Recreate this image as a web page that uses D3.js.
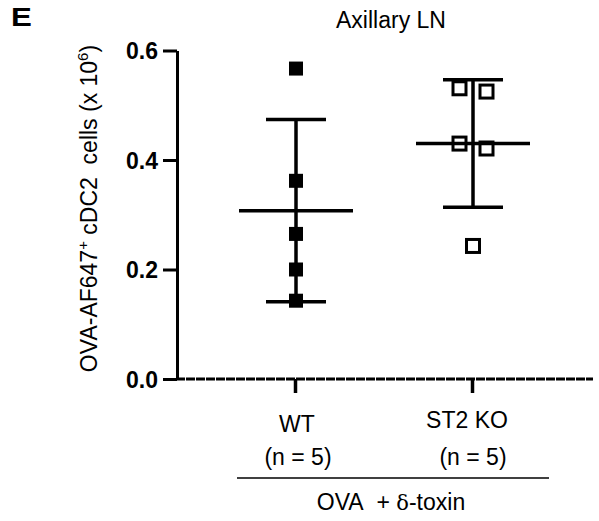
<!DOCTYPE html>
<html>
<head>
<meta charset="utf-8">
<script src="https://cdn.jsdelivr.net/npm/d3@7"></script>
<style>
  html, body { margin: 0; padding: 0; background: #fff; }
  svg { display: block; }
  text { font-family: "Liberation Sans", Arial, sans-serif; fill: #000; }
</style>
</head>
<body>
<svg id="chart" width="599" height="521"></svg>
<script>
// ---- data ----
const categories = ["WT", "ST2 KO"];
const nLabels = ["(n = 5)", "(n = 5)"];
const wtValues = [0.567, 0.362, 0.265, 0.200, 0.143];
const koValues = [0.531, 0.525, 0.430, 0.421, 0.243];
const yTicks = [0.0, 0.2, 0.4, 0.6];
const panelLabel = "E";
const title = "Axillary LN";
const groupTitle = "OVA\u00a0 + δ-toxin";

const groups = [
  { name: categories[0], values: wtValues, filled: true },
  { name: categories[1], values: koValues, filled: false }
];

const svg = d3.select("#chart");

const y = d3.scaleLinear().domain([0, 0.6]).range([379, 50.5]);
const x = d3.scalePoint().domain(categories).range([296, 473]);

// panel label & title
svg.append("text").attr("transform", "translate(11,26) scale(1.2,1)")
  .attr("font-size", 26).attr("font-weight", "bold").text(panelLabel);
svg.append("text").attr("x", 391).attr("y", 28)
  .attr("text-anchor", "middle").attr("font-size", 23).text(title);

// y axis
const yAxis = svg.append("g").attr("transform", "translate(177,0)")
  .call(d3.axisLeft(y).tickValues(yTicks).tickFormat(d3.format(".1f"))
    .tickSize(14).tickSizeOuter(0).tickPadding(5));
yAxis.select(".domain").attr("stroke", "#000").attr("stroke-width", 3);
yAxis.selectAll(".tick line").attr("stroke", "#000").attr("stroke-width", 3);
yAxis.selectAll(".tick text").attr("font-size", 23).attr("font-weight", "bold")
  .attr("font-family", "Liberation Sans, Arial, sans-serif").attr("dy", "0.36em");

// x axis (dashed baseline)
svg.append("line").attr("x1", 176).attr("x2", 593)
  .attr("y1", y(0)).attr("y2", y(0))
  .attr("stroke", "#000").attr("stroke-width", 3)
  .attr("stroke-dasharray", "9,1");
const xAxis = svg.append("g").attr("transform", `translate(0,${y(0)})`)
  .call(d3.axisBottom(x).tickSize(14).tickFormat(""));
xAxis.select(".domain").remove();
xAxis.selectAll(".tick line").attr("stroke", "#000").attr("stroke-width", 3.5)
  .attr("transform", "translate(-1,0)");

// category labels
const labelDx = [1, -6];
const labelDy = [432, 428];
const nDx = [2, 0];
categories.forEach((c, i) => {
  svg.append("text").attr("x", x(c) + labelDx[i]).attr("y", labelDy[i])
    .attr("text-anchor", "middle").attr("font-size", 23).text(c);
  svg.append("text").attr("x", x(c) + nDx[i]).attr("y", 465)
    .attr("text-anchor", "middle").attr("font-size", 23).text(nLabels[i]);
});

// group bracket
svg.append("line").attr("x1", 237).attr("x2", 549).attr("y1", 478).attr("y2", 478)
  .attr("stroke", "#000").attr("stroke-width", 1.5);
const gt = svg.append("text").attr("x", 391).attr("y", 510)
  .attr("text-anchor", "middle").attr("font-size", 23);
const parts = groupTitle.split("δ");
gt.append("tspan").text(parts[0]);
gt.append("tspan").attr("font-family", "DejaVu Serif, Liberation Serif, serif").attr("font-size", 21).text("δ");
gt.append("tspan").text(parts[1]);

// y label
const yl = svg.append("text")
  .attr("transform", "translate(97,208.5) rotate(-90)")
  .attr("text-anchor", "middle").attr("font-size", 23);
yl.append("tspan").text("OVA-AF647");
yl.append("tspan").attr("font-size", 15).attr("dy", -9).text("+");
yl.append("tspan").attr("dy", 9).text(" cDC2\u00a0\u00a0cells (x 10");
yl.append("tspan").attr("font-size", 15).attr("dy", -9).text("6");
yl.append("tspan").attr("dy", 9).text(")");

// points, mean and SD
const markerSize = 14;
const spread = 13.5;
groups.forEach(g => {
  const cx = x(g.name);
  const mean = d3.mean(g.values);
  const sd = d3.deviation(g.values);

  // offsets for overlapping points (simple clustering)
  const sorted = g.values.map((v, i) => ({ v, i })).sort((a, b) => b.v - a.v);
  const clusters = [];
  sorted.forEach(p => {
    const last = clusters[clusters.length - 1];
    if (last && Math.abs(y(last[last.length - 1].v) - y(p.v)) < markerSize + 2) last.push(p);
    else clusters.push([p]);
  });
  const pts = [];
  clusters.forEach(cl => {
    cl.forEach((p, k) => {
      const off = (k - (cl.length - 1) / 2) * 2 * spread;
      pts.push({ v: p.v, x: cx + off });
    });
  });

  const s = g.filled ? markerSize : markerSize - 1;
  svg.append("g").selectAll("rect").data(pts).join("rect")
    .attr("x", d => d.x - s / 2).attr("y", d => y(d.v) - s / 2)
    .attr("width", s).attr("height", s)
    .attr("fill", g.filled ? "#000" : "#fff")
    .attr("stroke", g.filled ? "none" : "#000")
    .attr("stroke-width", g.filled ? 0 : 3);

  const eg = svg.append("g").attr("stroke", "#000").attr("stroke-width", 3.5);
  eg.append("line").attr("x1", cx).attr("x2", cx)
    .attr("y1", y(mean + sd)).attr("y2", y(mean - sd));
  eg.append("line").attr("x1", cx - 57).attr("x2", cx + 57)
    .attr("y1", y(mean)).attr("y2", y(mean));
  [mean + sd, mean - sd].forEach(v => {
    eg.append("line").attr("x1", cx - 30).attr("x2", cx + 30)
      .attr("y1", y(v)).attr("y2", y(v));
  });
});
</script>
</body>
</html>
